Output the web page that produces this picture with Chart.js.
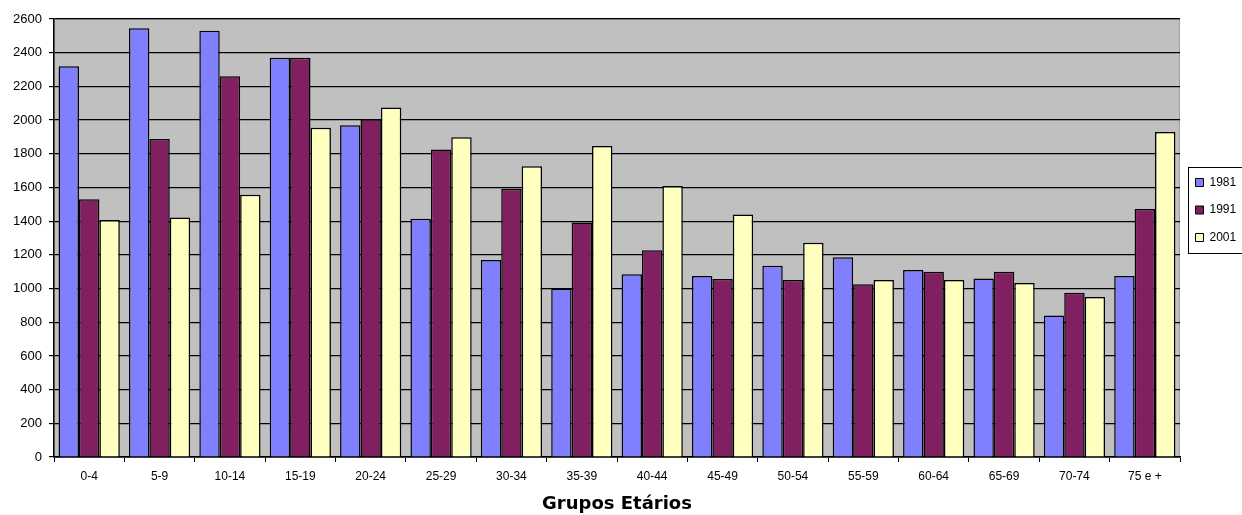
<!DOCTYPE html>
<html>
<head>
<meta charset="utf-8">
<script src="https://cdn.jsdelivr.net/npm/chart.js@4.4.0/dist/chart.umd.min.js"></script>
<style>
  html, body { margin: 0; padding: 0; background: #ffffff; }
  #wrap { width: 1242px; height: 515px; position: relative; }
</style>
</head>
<body>
<div id="wrap"><canvas id="myChart"></canvas></div>
<script>
// age groups on the x axis
var groups = ['0-4', '5-9', '10-14', '15-19', '20-24', '25-29', '30-34', '35-39',
              '40-44', '45-49', '50-54', '55-59', '60-64', '65-69', '70-74', '75 e +'];
// one series per census year
var y1981 = [2320, 2545, 2530, 2370, 1970, 1415, 1170, 1000, 1085, 1075, 1135, 1185, 1110, 1060, 840, 1075];
var y1991 = [1530, 1888, 2260, 2370, 2005, 1826, 1592, 1392, 1228, 1057, 1050, 1025, 1100, 1100, 975, 1472];
var y2001 = [1407, 1421, 1557, 1955, 2074, 1898, 1726, 1846, 1609, 1440, 1272, 1051, 1051, 1033, 950, 1929];
var yTicks = [0, 200, 400, 600, 800, 1000, 1200, 1400, 1600, 1800, 2000, 2200, 2400, 2600];

// grey plot background + light border, like the old spreadsheet chart
var plotBackground = {
  id: 'plotBackground',
  beforeDraw: function(chart) {
    var a = chart.chartArea, ctx = chart.ctx;
    ctx.save();
    ctx.fillStyle = '#c0c0c0';
    ctx.fillRect(a.left, a.top, a.right - a.left, a.bottom - a.top);
    ctx.strokeStyle = '#a0a0a0';
    ctx.lineWidth = 1;
    ctx.strokeRect(a.left + 0.5, a.top + 0.5, a.right - a.left - 1, a.bottom - a.top);
    ctx.restore();
  }
};

// move the legend up a bit and frame it
var legendFrame = {
  id: 'legendFrame',
  afterLayout: function(chart) {
    var lg = chart.legend;
    lg.top -= 57;
    lg.bottom -= 57;
  },
  afterDraw: function(chart) {
    var lg = chart.legend, boxes = lg.legendHitBoxes, ctx = chart.ctx;
    if (!boxes || !boxes.length) return;
    var first = boxes[0], last = boxes[boxes.length - 1];
    var top = Math.round(first.top - 10) + 0.5;
    var bottom = Math.round(last.top + last.height + 9) + 0.5;
    ctx.save();
    ctx.strokeStyle = '#000000';
    ctx.lineWidth = 1;
    ctx.strokeRect(Math.round(lg.left + 8) + 0.5, top, 80, bottom - top);
    ctx.restore();
  }
};

var ctx = document.getElementById('myChart');
var myChart = new Chart(ctx, {
  type: 'bar',
  data: {
    labels: groups,
    datasets: [
      { label: '1981', data: y1981, backgroundColor: '#8080ff', borderColor: '#000000', borderWidth: 1.5 },
      { label: '1991', data: y1991, backgroundColor: '#802060', borderColor: '#000000', borderWidth: 1.5 },
      { label: '2001', data: y2001, backgroundColor: '#ffffc0', borderColor: '#000000', borderWidth: 1.5 }
    ]
  },
  options: {
    responsive: true,
    maintainAspectRatio: false,
    animation: false,
    devicePixelRatio: 1,
    layout: { padding: { top: 19, right: 0, left: 0, bottom: 0 } },
    datasets: { bar: { categoryPercentage: 0.87, barPercentage: 1.0 } },
    plugins: {
      tooltip: { enabled: false },
      legend: {
        position: 'right',
        maxWidth: 62,
        labels: {
          boxWidth: 8,
          boxHeight: 8,
          padding: 15.5,
          color: '#000000',
          font: { family: 'Liberation Sans, Arial, sans-serif', size: 12 },
          generateLabels: function(chart) {
            return chart.data.datasets.map(function(ds, i) {
              return { text: ds.label, fillStyle: ds.backgroundColor, strokeStyle: '#000000', lineWidth: 1, datasetIndex: i };
            });
          }
        }
      }
    },
    scales: {
      x: {
        afterFit: function(scale) { scale.height = 58; },
        grid: { offset: true, drawOnChartArea: false, drawTicks: true, tickLength: 5, color: '#000000' },
        border: { color: '#000000', width: 1.5 },
        ticks: { color: '#000000', padding: 7, maxRotation: 0, font: { family: 'Liberation Sans, Arial, sans-serif', size: 12 } },
        title: {
          display: true,
          text: 'Grupos Etários',
          color: '#000000',
          padding: { top: 6, bottom: 0 },
          font: { family: 'DejaVu Sans, Verdana, sans-serif', size: 18, weight: 'bold' }
        }
      },
      y: {
        min: 0,
        max: 2600,
        afterFit: function(scale) { scale.width = 54; },
        afterBuildTicks: function(scale) { scale.ticks = yTicks.map(function(v) { return { value: v }; }); },
        grid: { color: '#000000', lineWidth: 1.2, drawTicks: true, tickLength: 5 },
        border: { color: '#000000', width: 1.5 },
        ticks: {
          color: '#000000',
          padding: 7,
          font: { family: 'Liberation Sans, Arial, sans-serif', size: 13 },
          callback: function(v) { return String(v); }
        }
      }
    }
  },
  plugins: [plotBackground, legendFrame]
});
</script>
</body>
</html>
